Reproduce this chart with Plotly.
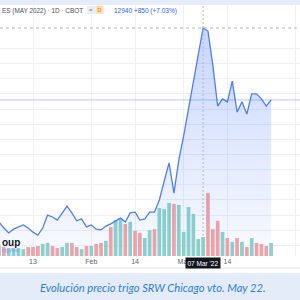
import plotly.graph_objects as go

# ---- data (trading days, Jan 3 2022 .. Apr 1 2022) ----
dates = ["2022-01-03","2022-01-04","2022-01-05","2022-01-06","2022-01-07","2022-01-10","2022-01-11","2022-01-12",
         "2022-01-13","2022-01-14","2022-01-18","2022-01-19","2022-01-20","2022-01-21","2022-01-24","2022-01-25",
         "2022-01-26","2022-01-27","2022-01-28","2022-01-31","2022-02-01","2022-02-02","2022-02-03","2022-02-04",
         "2022-02-07","2022-02-08","2022-02-09","2022-02-10","2022-02-11","2022-02-14","2022-02-15","2022-02-16",
         "2022-02-17","2022-02-18","2022-02-22","2022-02-23","2022-02-24","2022-02-25","2022-02-28","2022-03-01",
         "2022-03-02","2022-03-03","2022-03-04","2022-03-07","2022-03-08","2022-03-09","2022-03-10","2022-03-11",
         "2022-03-14","2022-03-15","2022-03-16","2022-03-17","2022-03-18","2022-03-21","2022-03-22","2022-03-23",
         "2022-03-24","2022-03-25","2022-03-28","2022-03-29","2022-03-30","2022-03-31","2022-04-01"]

close = [787, 782, 766, 753, 763, 769, 774, 766, 755, 747, 766, 800, 795, 787, 806, 824,
         806, 785, 790, 769, 774, 763, 761, 771, 777, 785, 792, 782, 806, 808, 787, 790,
         808, 808, 840, 890, 938, 858, 945, 1009, 1077, 1151, 1223, 1294, 1286, 1196, 1088, 1107,
         1099, 1154, 1072, 1099, 1067, 1120, 1120, 1107, 1088, 1104]

volume = [26, 29, 26, 23, 23, 23, 20, 26, 26, 29, 35, 38, 29, 23, 26, 38,
          38, 26, 20, 29, 29, 35, 38, 44, 84, 104, 110, 93, 99, 73, 67, 52,
          75, 78, 139, 136, 154, 151, 148, 70, 142, 122, 49, 55, 183, 78, 102, 70,
          52, 41, 52, 41, 26, 52, 38, 35, 29, 38]

direction = ["d","u","d","u","u","u","u","d","d","d","u","u","d","d","u","u",
             "d","d","u","d","u","d","d","u","d","u","u","d","u","d","d","u",
             "u","d","u","u","u","d","u","u","u","u","u","u","d","d","d","u",
             "d","u","d","u","d","u","d","d","d","u"]

tick_idx = [8, 20, 29, 39, 48, 62]
tick_text = ["13", "Feb", "14", "Mar", "14", "Apr"]

cross_idx = 43
tooltip = "07 Mar '22"
header = "ES (MAY 2022) · 1D · CBOT"
quote = "12940 +850 (+7.03%)"
caption = "Evolución precio trigo SRW Chicago vto. May 22."

# ---- figure ----
W = H = 300
def py(p):  # pixel -> paper y
    return 1 - p / H
def px(p):
    return p / W

x = list(range(len(close)))
bar_colors = ["#8fd4cb" if d == "u" else "#f6a5a3" for d in direction]

fig = go.Figure()
fig.add_trace(go.Bar(x=x, y=volume, marker=dict(color=bar_colors, line=dict(width=0)),
                     yaxis="y", hoverinfo="skip"))
fig.add_trace(go.Scatter(x=x, y=close, mode="lines", yaxis="y2",
                         line=dict(color="#4f7ef2", width=1.3),
                         fill="tozeroy",
                         fillgradient=dict(type="vertical", start=692, stop=1294,
                                           colorscale=[[0, "rgba(41,98,255,0.03)"],
                                                       [1, "rgba(41,98,255,0.26)"]]),
                         hoverinfo="skip"))

dom = [py(256), py(5)]
grid_c = "#eef1f8"
fig.update_layout(
    width=W, height=H, margin=dict(l=0, r=0, t=0, b=0),
    paper_bgcolor="white", plot_bgcolor="white", showlegend=False,
    bargap=0.24,
    font=dict(family="Liberation Sans, Arial, sans-serif"),
    xaxis=dict(range=[1.21, 62.94], domain=[0, 1], tickmode="array",
               tickvals=tick_idx, ticktext=tick_text, showgrid=True, gridcolor=grid_c,
               gridwidth=1, zeroline=False, showline=False, ticks="",
               tickfont=dict(size=7, color="#5d606b"), ticklabelstandoff=0),
    yaxis=dict(domain=dom, range=[0, 251 * 2.9], showgrid=False, showticklabels=False,
               zeroline=False),
    yaxis2=dict(overlaying="y", range=[692.08, 1354.7], showticklabels=False,
                tickmode="array", tickvals=list(range(720, 1241, 40)),
                showgrid=True, gridcolor=grid_c, zeroline=False),
)

shapes = []
# last price line
shapes.append(dict(type="line", xref="paper", yref="y2", x0=0, x1=1, y0=close[-1], y1=close[-1],
                   line=dict(color="rgba(41,98,255,0.35)", width=1)))
# crosshair
shapes.append(dict(type="line", xref="paper", yref="y2", x0=0, x1=1,
                   y0=close[cross_idx], y1=close[cross_idx],
                   line=dict(color="#b2b5be", width=1, dash="3px,3px")))
shapes.append(dict(type="line", xref="x", yref="paper", x0=cross_idx, x1=cross_idx,
                   y0=dom[0], y1=dom[1], line=dict(color="#b2b5be", width=1, dash="2px,2px")))
# page chrome
shapes.append(dict(type="rect", xref="paper", yref="paper", x0=0, x1=1, y0=py(5), y1=1,
                   fillcolor="#e3ecf8", line=dict(width=0)))
shapes.append(dict(type="line", xref="paper", yref="paper", x0=0, x1=1, y0=py(268), y1=py(268),
                   line=dict(color="#e0e3eb", width=1)))
shapes.append(dict(type="rect", xref="paper", yref="paper", x0=0, x1=1, y0=0, y1=py(273),
                   fillcolor="#e3ecf8", line=dict(width=0)))
# badge pill
shapes.append(dict(type="rect", xref="paper", yref="paper", x0=px(87), x1=px(104), y0=py(14), y1=py(6),
                   fillcolor="#eceef2", line=dict(width=0)))
fig.update_layout(shapes=shapes)

ann = []
ann.append(dict(text=header, xref="paper", yref="paper", x=px(0), y=py(10.5), xanchor="left",
                yanchor="middle", showarrow=False, font=dict(size=6.4, color="#4a4d57")))
ann.append(dict(text="=", xref="paper", yref="paper", x=px(91), y=py(10), xanchor="center",
                yanchor="middle", showarrow=False, font=dict(size=6, color="#787b86")))
ann.append(dict(text="D", xref="paper", yref="paper", x=px(99.5), y=py(10), xanchor="center",
                yanchor="middle", showarrow=False, bgcolor="#ffd9a6", borderpad=0.5,
                font=dict(size=5.5, color="#f57c00")))
ann.append(dict(text=quote, xref="paper", yref="paper", x=px(112), y=py(10.5), xanchor="left",
                yanchor="middle", showarrow=False, font=dict(size=6.5, color="#2962ff")))
ann.append(dict(text=tooltip, xref="x", yref="paper", x=cross_idx, y=py(262.5), xanchor="center",
                yanchor="middle", showarrow=False, bgcolor="#131722", borderpad=1.5,
                font=dict(size=6.5, color="white")))
ann.append(dict(text="<b>oup</b>", xref="paper", yref="paper", x=px(0), y=py(242), xanchor="left",
                yanchor="middle", showarrow=False, font=dict(size=10, color="#131722")))
ann.append(dict(text="ingView", xref="paper", yref="paper", x=px(0), y=py(250), xanchor="left",
                yanchor="middle", showarrow=False, font=dict(size=5, color="#8a94f0")))
ann.append(dict(text="<i>" + caption + "</i>", xref="paper", yref="paper", x=px(153), y=py(287),
                xanchor="center", yanchor="middle", showarrow=False,
                font=dict(size=11.2, color="#2f7fd1", family="Lato, Open Sans, sans-serif")))
fig.update_layout(annotations=ann)

fig.write_html("out.html")
